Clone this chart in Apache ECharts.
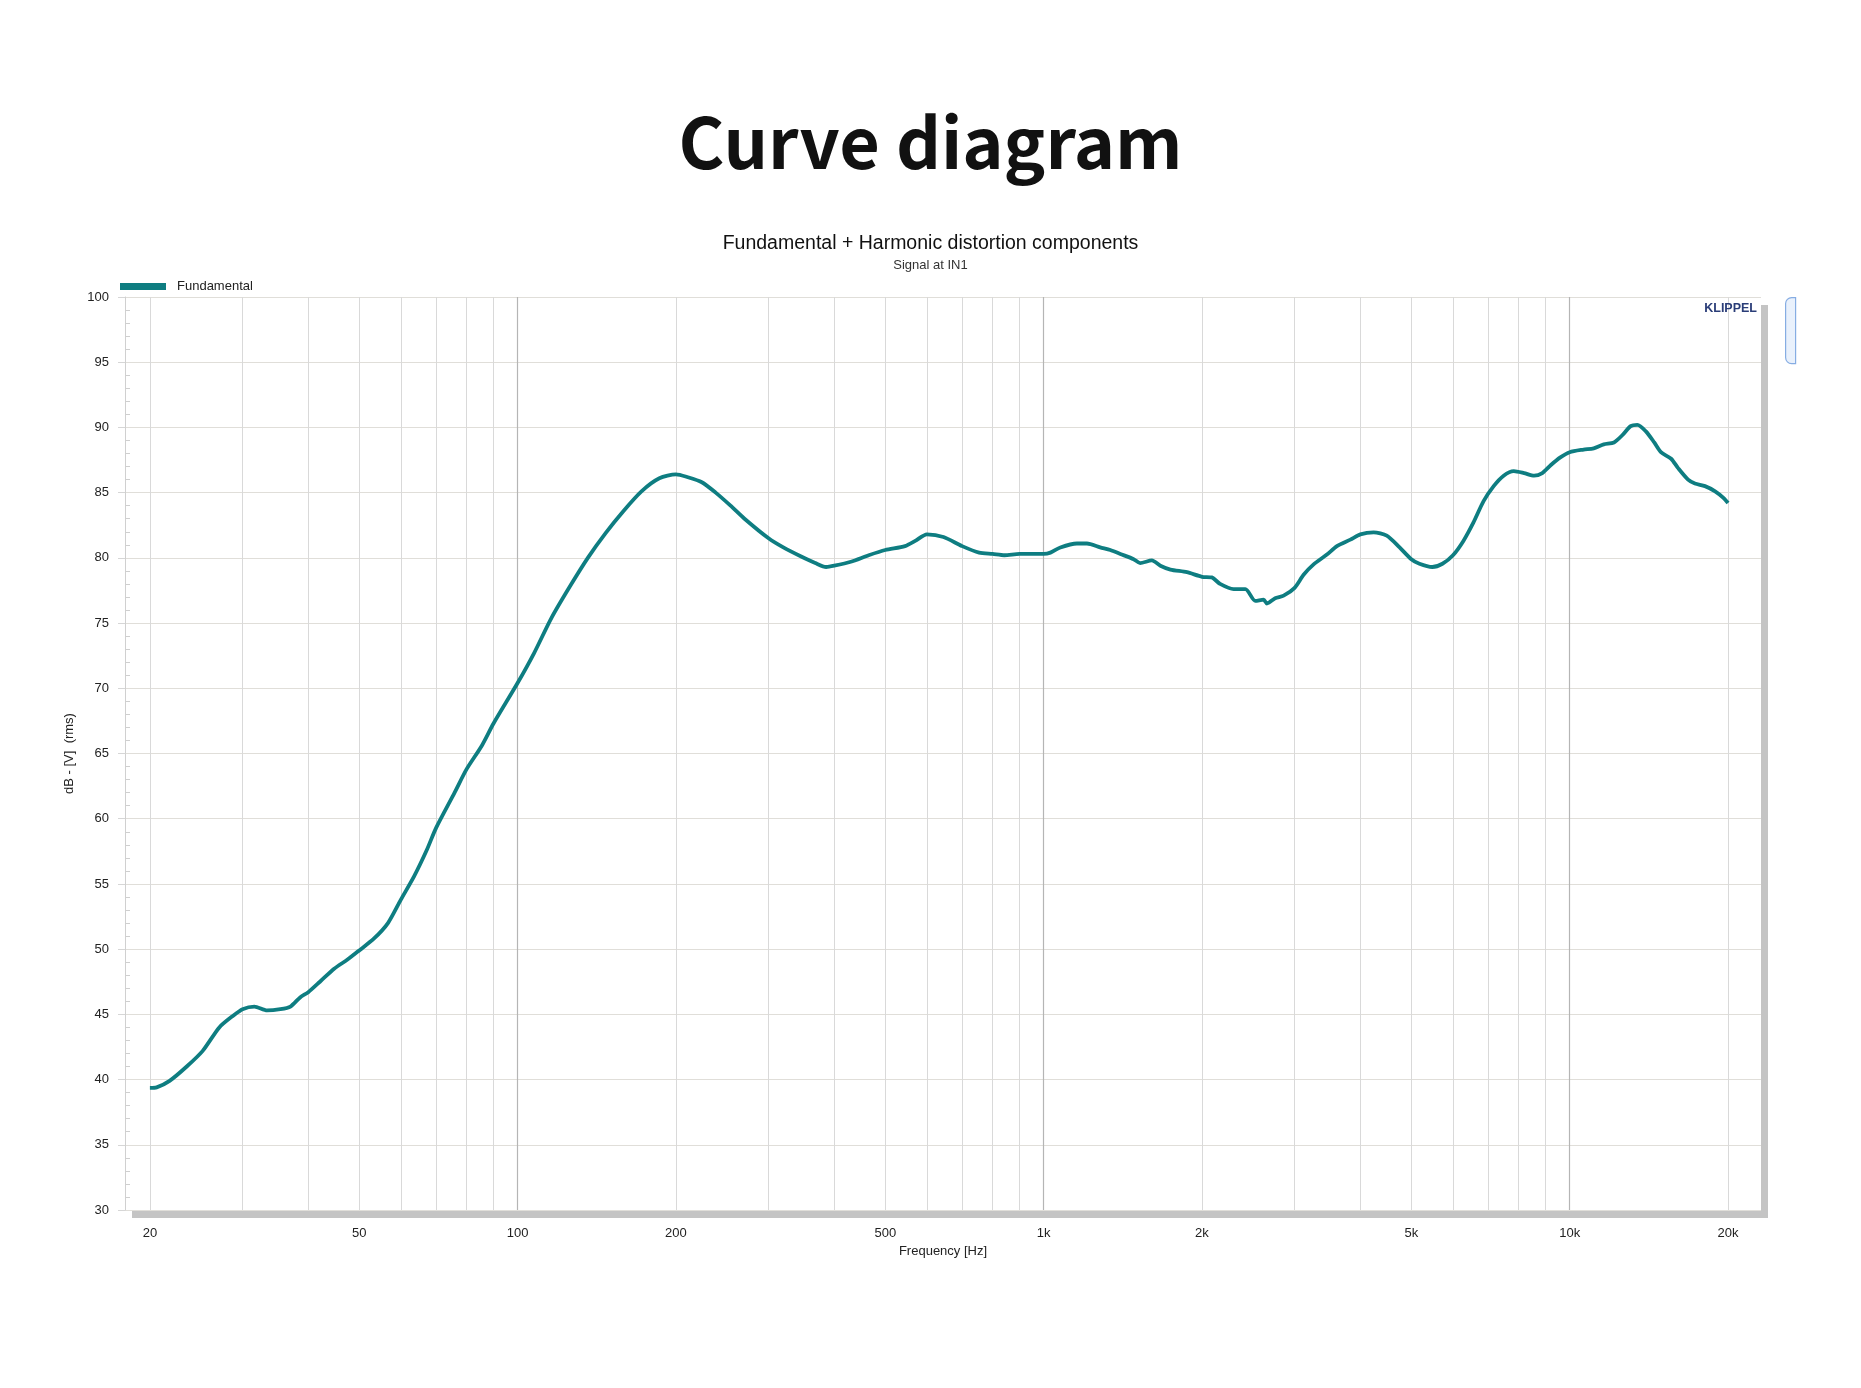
<!DOCTYPE html>
<html><head><meta charset="utf-8">
<script src="https://cdn.jsdelivr.net/npm/echarts@6/dist/echarts.min.js"></script>
<style>html,body{margin:0;padding:0;background:#fff}#c{width:1861px;height:1388px}</style>
</head><body><div id="c"></div>
<script>
const freqHz = [20,20.6,21.8,23.5,25.2,27.1,28.8,30,31.6,33.4,35.4,37,38.6,40,42.1,44.8,47.5,50,53.3,56.7,60,63.6,67.2,70,75.9,80,85.5,90,100,107.5,116,125.7,136,147,159,172,186,200,210,224,238,254,270,300,320,346,368,386,400,430,465,500,545,570,600,645,700,754,800,842,900,965,1000,1030,1076,1157,1209,1281,1339,1399,1483,1526,1606,1667,1742,1872,2000,2088,2165,2297,2418,2526,2619,2657,2755,2859,3000,3120,3260,3455,3610,3830,4000,4240,4490,4750,5000,5180,5480,5730,6000,6280,6560,6860,7170,7490,7830,8190,8560,8870,9200,9600,10000,10630,11110,11610,12140,12590,13060,13450,13960,14480,14910,15590,16060,16790,17300,18080,18900,19600,20000];
const levelDb = [39.36,39.4,39.9,41.0,42.2,44.0,44.9,45.4,45.6,45.3,45.4,45.6,46.3,46.7,47.5,48.5,49.2,49.9,50.8,52.0,53.8,55.6,57.6,59.3,62.0,63.8,65.6,67.3,70.4,72.7,75.4,77.8,80.0,81.9,83.6,85.1,86.1,86.4,86.2,85.8,85.0,84.0,83.0,81.5,80.8,80.1,79.6,79.3,79.4,79.7,80.2,80.6,80.9,81.3,81.8,81.6,80.9,80.4,80.3,80.2,80.3,80.3,80.3,80.4,80.8,81.1,81.1,80.8,80.6,80.3,79.9,79.6,79.8,79.4,79.1,78.9,78.55,78.5,78.0,77.6,77.6,76.7,76.8,76.5,76.9,77.1,77.7,78.7,79.5,80.25,80.9,81.4,81.8,81.95,81.7,80.8,79.9,79.55,79.3,79.55,80.2,81.3,82.7,84.35,85.5,86.3,86.65,86.5,86.3,86.5,87.1,87.7,88.1,88.3,88.4,88.7,88.85,89.4,90.1,90.2,89.7,88.85,88.1,87.6,86.9,86.0,85.7,85.5,85.1,84.6,84.2];
const xTickLabelsHz = [20,50,100,200,500,1000,2000,5000,10000,20000];
const minorGridHz = [20,30,40,50,60,70,80,90,200,300,400,500,600,700,800,900,2000,3000,4000,5000,6000,7000,8000,9000,20000];
const decadeGridHz = [100,1000,10000];
const seriesName = 'Fundamental';

const lg = Math.log10;
const X_MIN = 1.2537, X_MAX = 4.3637;
const FONT = 'Liberation Sans';
const TEAL = '#0e7d81';

const chart = echarts.init(document.getElementById('c'));
const baseX = {type:'value', min:X_MIN, max:X_MAX, gridIndex:0};
chart.setOption({
  animation:false,
  backgroundColor:'#fff',
  title:[
    {text:'Curve diagram', left:'center', top:102,
     textStyle:{fontSize:70, fontWeight:'bold', fontFamily:'Noto Sans CJK SC', color:'#111'}},
    {text:'Fundamental + Harmonic distortion components', subtext:'Signal at IN1', left:'center', top:229, itemGap:5,
     textStyle:{fontSize:19.5, fontWeight:'normal', fontFamily:FONT, color:'#111'},
     subtextStyle:{fontSize:13, fontFamily:FONT, color:'#333'}}
  ],
  legend:{data:[seriesName], left:115, top:275, itemWidth:46, itemHeight:7, icon:'rect',
    textStyle:{fontSize:13, fontFamily:FONT, color:'#222', padding:[0,0,0,6]}},
  grid:{left:125, top:297, width:1636, height:913, show:true, backgroundColor:'#fff', borderWidth:0,
    shadowColor:'#c4c4c4', shadowOffsetX:7, shadowOffsetY:8, shadowBlur:0},
  xAxis:[
    Object.assign({}, baseX, {
      axisLine:{show:false}, axisTick:{show:false}, splitLine:{show:false},
      axisLabel:{customValues:xTickLabelsHz.map(lg), margin:17, fontSize:13, fontFamily:FONT, color:'#222',
        formatter:v=>{const f=Math.round(Math.pow(10,v)); return f>=1000 ? (f/1000)+'k' : String(f);}},
      name:'Frequency [Hz]', nameLocation:'middle', nameGap:34.5,
      nameTextStyle:{fontSize:13, fontFamily:FONT, color:'#222'}
    }),
    Object.assign({}, baseX, {
      axisLine:{show:false}, axisLabel:{show:false},
      axisTick:{show:false, customValues:minorGridHz.map(lg)},
      splitLine:{show:true, lineStyle:{color:'#d9d9d9', width:1}}
    }),
    Object.assign({}, baseX, {
      axisLine:{show:false}, axisLabel:{show:false},
      axisTick:{show:false, customValues:decadeGridHz.map(lg)},
      splitLine:{show:true, lineStyle:{color:'#b5b5b5', width:1.2}}
    })
  ],
  yAxis:[
    {type:'value', min:30, max:100, interval:5, position:'left',
     axisLine:{show:true, lineStyle:{color:'#d0d0d0'}},
     axisTick:{show:true, inside:false, length:7, lineStyle:{color:'#d6d6d6'}},
     axisLabel:{fontSize:13, fontFamily:FONT, color:'#222', margin:16},
     splitLine:{show:true, lineStyle:{color:'#e0ded9', width:1.2}},
     name:'dB - [V]  (rms)', nameLocation:'middle', nameGap:47,
     nameTextStyle:{fontSize:13, fontFamily:FONT, color:'#222'}},
    {type:'value', min:30, max:100, interval:5, position:'left',
     axisLine:{show:false}, axisLabel:{show:false}, splitLine:{show:false},
     axisTick:{show:false, inside:true},
     minorTick:{show:true, splitNumber:5, length:5, lineStyle:{color:'#cfcfcf'}}}
  ],
  graphic:[
    {type:'text', right:104, top:302, z:10,
     style:{text:'KLIPPEL', font:'bold 12.5px "Liberation Sans"', fill:'#2a3d78'}},
    {type:'rect', left:1785, top:297, z:10,
     shape:{width:10, height:66, r:[6,0,0,6]},
     style:{fill:'#e9f1fc', stroke:'#86ade3', lineWidth:1.2}}
  ],
  series:[{
    name:seriesName, type:'line', xAxisIndex:0, yAxisIndex:0,
    data:freqHz.map((f,i)=>[lg(f), levelDb[i]]),
    showSymbol:false, smooth:0.25, z:5,
    lineStyle:{color:TEAL, width:3.8}, itemStyle:{color:TEAL}
  }]
});
</script></body></html>
